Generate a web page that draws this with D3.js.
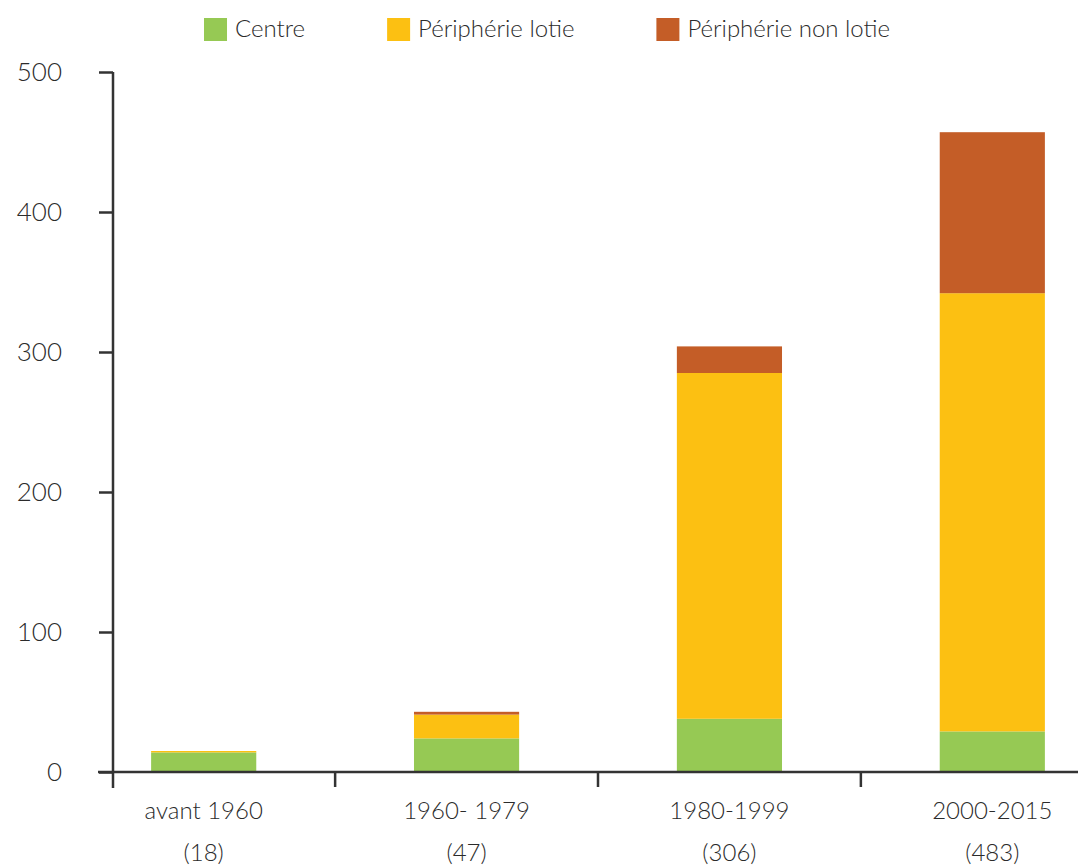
<!DOCTYPE html>
<html>
<head>
<meta charset="utf-8">
<script src="https://cdn.jsdelivr.net/npm/d3@7"></script>
<style>
  body { margin: 0; background: #fff; }
  svg text { font-family: Lato, "Open Sans", sans-serif; font-weight: 300; fill: #2b2b2b; }
</style>
</head>
<body>
<svg width="1078" height="868"></svg>
<script>
// periods and the count shown under each label
var periods = ["avant 1960", "1960- 1979", "1980-1999", "2000-2015"];
var counts = ["(18)", "(47)", "(306)", "(483)"];

// stacked series
var series = ["Centre", "Périphérie lotie", "Périphérie non lotie"];
var centre = [14, 24, 38, 29];
var lotie = [1, 17, 247, 313];
var nonLotie = [0, 2, 19, 115];

var yTicks = [0, 100, 200, 300, 400, 500];
var colors = ["#96c954", "#fcc012", "#c45d27"];

var svg = d3.select("svg");

var y = d3.scaleLinear().domain([0, 500]).range([772, 72]);
var x = d3.scaleBand()
  .domain(periods)
  .range([113, 1083])
  .paddingInner(0.6)
  .paddingOuter(0.145);

var color = d3.scaleOrdinal().domain(series).range(colors);

var rows = periods.map(function(p, i) {
  return { period: p, "Centre": centre[i], "Périphérie lotie": lotie[i], "Périphérie non lotie": nonLotie[i] };
});
var stacked = d3.stack().keys(series)(rows);

//////////////////////////
// bars
//////////////////////////
svg.append("g")
  .selectAll("g")
  .data(stacked)
  .enter()
  .append("g")
  .attr("fill", function(d) { return color(d.key); })
  .selectAll("rect")
  .data(function(d) { return d; })
  .enter()
  .append("rect")
  .attr("x", function(d) { return x(d.data.period); })
  .attr("width", x.bandwidth())
  .attr("y", function(d) { return y(d[1]); })
  .attr("height", function(d) { return y(d[0]) - y(d[1]); });

//////////////////////////
// axes
//////////////////////////
var yAxis = svg.append("g")
  .attr("transform", "translate(113,0)")
  .call(d3.axisLeft(y).tickValues(yTicks).tickSize(14).tickPadding(37).tickFormat(d3.format("d")));
yAxis.select(".domain").remove();
yAxis.selectAll("line").attr("stroke", "#333").attr("stroke-width", 2.5);
yAxis.selectAll("text")
  .style("font-size", "26px")
  .style("font-family", "Lato, sans-serif")
  .style("font-weight", 300)
  .attr("fill", "#2b2b2b");

// vertical axis line, running just below the baseline
svg.append("line")
  .attr("x1", 113).attr("x2", 113)
  .attr("y1", y(500)).attr("y2", y(0) + 16)
  .attr("stroke", "#333").attr("stroke-width", 2.5);

// horizontal axis line
svg.append("line")
  .attr("x1", 98).attr("x2", 1078)
  .attr("y1", y(0)).attr("y2", y(0))
  .attr("stroke", "#333").attr("stroke-width", 2.5);

// ticks between the periods
var step = x.step();
var between = periods.slice(1).map(function(p) { return x(p) + x.bandwidth() / 2 - step / 2; });
svg.append("g")
  .selectAll("line")
  .data(between)
  .enter()
  .append("line")
  .attr("x1", function(d) { return d; })
  .attr("x2", function(d) { return d; })
  .attr("y1", y(0))
  .attr("y2", y(0) + 15)
  .attr("stroke", "#333")
  .attr("stroke-width", 2.5);

// period labels, two lines each
var labels = svg.append("g")
  .selectAll("text")
  .data(periods)
  .enter()
  .append("text")
  .attr("text-anchor", "middle")
  .style("font-size", "24px");
labels.append("tspan")
  .attr("x", function(d) { return x(d) + x.bandwidth() / 2; })
  .attr("y", 819)
  .text(function(d) { return d; });
labels.append("tspan")
  .attr("x", function(d) { return x(d) + x.bandwidth() / 2; })
  .attr("y", 861)
  .text(function(d, i) { return counts[i]; });

//////////////////////////
// legend
//////////////////////////
var legend = svg.append("g");
var items = legend.selectAll("g")
  .data(series)
  .enter()
  .append("g");
items.append("rect")
  .attr("width", 23)
  .attr("height", 23)
  .attr("y", 18)
  .attr("fill", function(d) { return color(d); });
items.append("text")
  .attr("x", 31)
  .attr("y", 37)
  .style("font-size", "24px")
  .text(function(d) { return d; });

var cursor = 0;
items.each(function() {
  var g = d3.select(this);
  g.attr("transform", "translate(" + cursor + ",0)");
  cursor += 31 + g.select("text").node().getComputedTextLength() + 82;
});
var total = cursor - 82;
legend.attr("transform", "translate(" + (547 - total / 2) + ",0)");
</script>
</body>
</html>
